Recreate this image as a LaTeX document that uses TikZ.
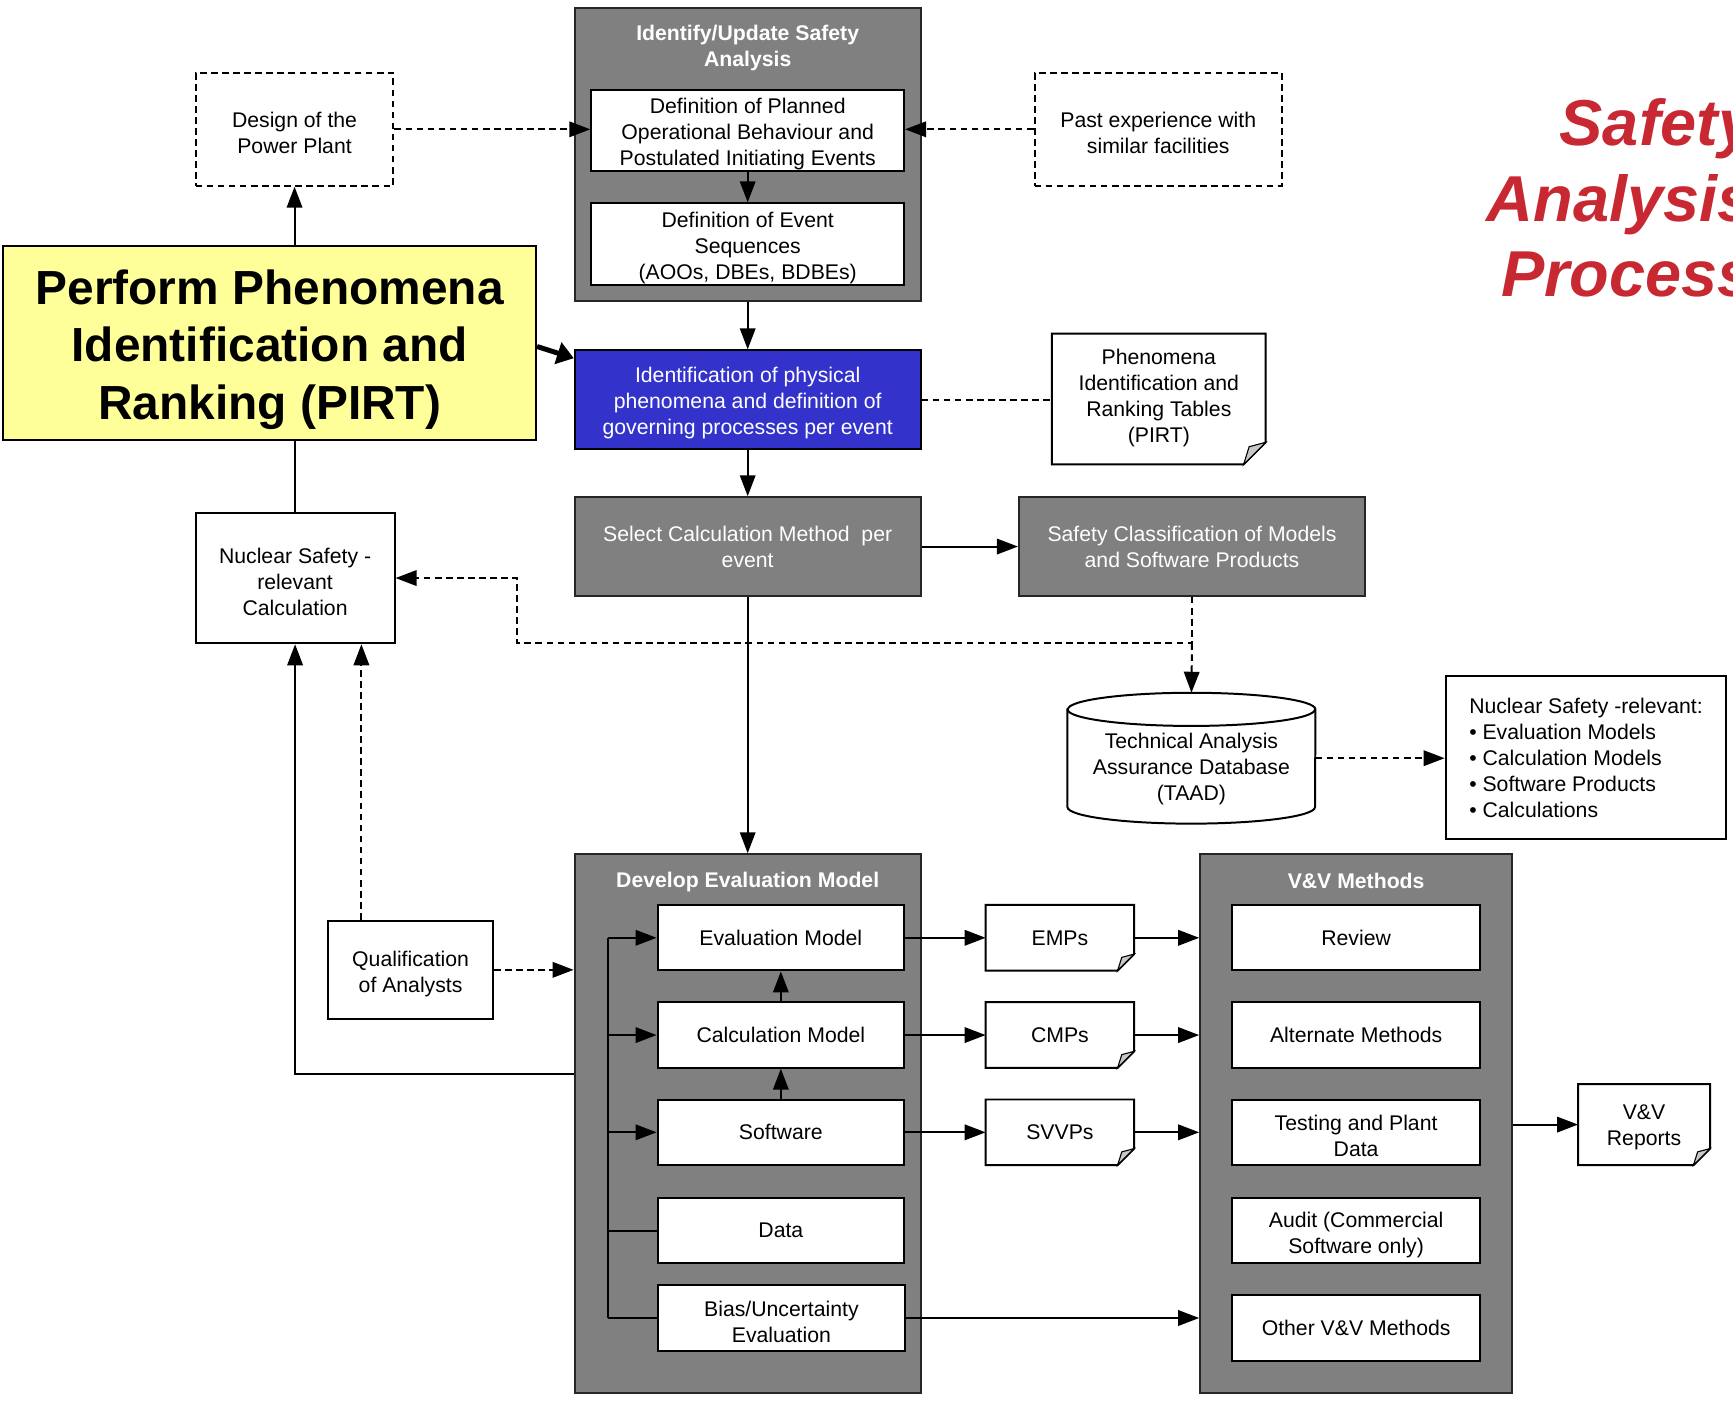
\documentclass[tikz,border=0pt]{standalone}
\usepackage{fontspec}
\setmainfont{Liberation Sans}
\usetikzlibrary{arrows.meta,calc}

\definecolor{boxgray}{RGB}{128,128,128}
\definecolor{pirtyellow}{RGB}{255,255,153}
\definecolor{phenblue}{RGB}{51,51,204}
\definecolor{titlered}{RGB}{200,40,50}
\definecolor{foldgray}{RGB}{200,200,200}

% zero-width strut that lowers a multi-line text block slightly
\newcommand\fl{\rule{0pt}{21pt}}

% outline of a document shape with a folded lower right corner
\newcommand\docoutline[2]{%
  \draw[docline] (#1.north west) -- (#1.north east) -- ([yshift=#2pt]#1.south east)
    -- ([xshift=-#2pt]#1.south east) -- (#1.south west) -- cycle;
  \draw[docline, line width=1pt, fill=foldgray] ([yshift=#2pt]#1.south east)
    -- ([xshift=-#2pt]#1.south east) -- ([shift={(-0.75*#2pt,0.8*#2pt)}]#1.south east) -- cycle;
}

\begin{document}
\begin{tikzpicture}[x=1pt,y=-1pt,
  every node/.style={inner sep=0pt, align=center, font=\fontsize{19.2}{23.5}\selectfont},
  sz/.style 2 args={minimum width=#1pt, minimum height=#2pt},
  wbox/.style={draw=black, fill=white, line width=1.8pt},
  dbox/.style={draw=black, line width=1.8pt, dash pattern=on 6pt off 4pt},
  gbox/.style={draw=black!85, fill=boxgray, line width=2pt, text=white},
  gtitle/.style={text=white, font=\fontsize{19.2}{23.5}\selectfont\bfseries},
  docline/.style={draw=black, line width=1.8pt, line join=miter},
  conn/.style={line width=1.8pt, -{Triangle[length=19pt,width=14pt]}},
  plain/.style={line width=1.8pt},
  dashline/.style={line width=1.8pt, dash pattern=on 6pt off 4pt},
  dconn/.style={conn, dash pattern=on 6pt off 4pt},
  bigtitle/.style={anchor=base west, text=titlered, font=\fontsize{58.7}{68}\selectfont\bfseries\itshape}
]
\path[use as bounding box, fill=white] (0,0) rectangle (1568,1270);

% ---- safety analysis block ----
\node[gbox, sz={313}{265}] (ga) at (676.5,139.5) {};
\node[gtitle] (gaT) at (676.5,43.5) {Identify/Update Safety\\Analysis};
\node[wbox, sz={283}{74}] (planned) at (676.5,118) {\fl Definition of Planned\\Operational Behaviour and\\Postulated Initiating Events};
\node[wbox, sz={283}{74}] (events) at (676.5,221) {\fl Definition of Event\\Sequences\\(AOOs, DBEs, BDBEs)};

\node[dbox, sz={179}{102}] (design) at (266.5,117) {\fl Design of the\\Power Plant};
\node[dbox, sz={224}{102}] (past) at (1048,117) {\fl Past experience with\\similar facilities};

\node[draw=black, line width=1.8pt, fill=pirtyellow, sz={482}{175}] (pirt) at (244,310.5) {};
\node[font=\fontsize{43.3}{52}\selectfont\bfseries] (pirtT) at (244,316) {Perform Phenomena\\Identification and\\Ranking (PIRT)};

\node[draw=black, line width=1.8pt, fill=phenblue, text=white, sz={313}{89}] (phen) at (676.5,361.5) {\fl Identification of physical\\phenomena and definition of\\governing processes per event};

\node[sz={193}{118}] (pirttab) at (1048.5,361) {};
\docoutline{pirttab}{20}
\node (pirttabT) at (1048.5,360) {Phenomena\\Identification and\\Ranking Tables\\(PIRT)};

\node[gbox, sz={313}{89}] (select) at (676.5,494.5) {Select Calculation Method~~per\\event};
\node[gbox, sz={313}{89}] (classif) at (1078.5,494.5) {Safety Classification of Models\\and Software Products};

\node[wbox, sz={180}{118}] (nscalc) at (267,523) {\fl Nuclear Safety -\\relevant\\Calculation};

% database cylinder
\node[sz={224}{118}] (taad) at (1078,686) {};
\draw[docline] ([yshift=-15pt]taad.north west) -- ([yshift=15pt]taad.south west)
  arc[start angle=180, end angle=360, x radius=112pt, y radius=15pt]
  -- ([yshift=-15pt]taad.north east)
  arc[start angle=0, end angle=180, x radius=112pt, y radius=15pt] -- cycle;
\draw[docline] ([yshift=-15pt]taad.north west) arc[start angle=180, end angle=360, x radius=112pt, y radius=15pt];
\node (taadT) at (1078,696) {Technical Analysis\\Assurance Database\\(TAAD)};

\node[wbox, sz={254}{147}, align=left] (nslist) at (1435,685.5) {Nuclear Safety -relevant:\\• Evaluation Models\\• Calculation Models\\• Software Products\\• Calculations};

% ---- evaluation model block ----
\node[gbox, sz={313}{487}] (develop) at (676.5,1016.5) {};
\node[gtitle] (developT) at (676.5,798) {Develop Evaluation Model};
\node[wbox, sz={223}{59}] (em) at (706.5,848.5) {Evaluation Model};
\node[wbox, sz={223}{59}] (cm) at (706.5,936.5) {Calculation Model};
\node[wbox, sz={223}{59}] (sw) at (706.5,1024.5) {Software};
\node[wbox, sz={223}{59}] (data) at (706.5,1113.5) {Data};
\node[wbox, sz={224}{59}] (bias) at (707,1192.5) {\fl Bias/Uncertainty\\Evaluation};

\node[wbox, sz={149}{89}] (qual) at (371.5,877.5) {\fl Qualification\\of Analysts};

\node[sz={134}{59}] (emps) at (959,848.5) {EMPs};
\docoutline{emps}{15}
\node[sz={134}{59}] (cmps) at (959,936.5) {CMPs};
\docoutline{cmps}{15}
\node[sz={134}{59}] (svvps) at (959,1024.5) {SVVPs};
\docoutline{svvps}{15}

% ---- V&V block ----
\node[gbox, sz={282}{487}] (vv) at (1227,1016.5) {};
\node[gtitle] (vvT) at (1227,797) {V\&V Methods};
\node[wbox, sz={224}{59}] (review) at (1227,848.5) {Review};
\node[wbox, sz={224}{59}] (alt) at (1227,936.5) {Alternate Methods};
\node[wbox, sz={224}{59}] (test) at (1227,1024.5) {\fl Testing and Plant\\Data};
\node[wbox, sz={224}{59}] (audit) at (1227,1113.5) {\fl Audit (Commercial\\Software only)};
\node[wbox, sz={224}{59}] (other) at (1227,1201.5) {Other V\&V Methods};

\node[sz={119}{73}] (reports) at (1487.5,1017.5) {};
\docoutline{reports}{15}
\node (reportsT) at (1487.5,1020) {V\&V\\Reports};

% ---- heading ----
\node[bigtitle] (h1) at (1411,132) {Safety};
\node[bigtitle] (h2) at (1345,200) {Analysis};
\node[bigtitle] (h3) at (1358,268) {Process};

% ---- connectors ----
\coordinate (jn) at (1078.5,582);
\coordinate (jw) at (468,582);
\coordinate (y972) at (0,972);
\coordinate (bus) at (550,0);

\draw[conn] (planned.south) -- (events.north);
\draw[conn] (ga.south) -- (phen.north);
\draw[dconn] (design.east) -- (design.east -| planned.west);
\draw[dconn] (past.west) -- (past.west -| planned.east);
\draw[conn] (design.south |- pirt.north) -- (design.south);
\draw[line width=4.5pt, -{Triangle[length=15pt,width=20pt]}] ($(pirt.east)+(0,3)$) -- ($(phen.north west)+(0,8)$);
\draw[plain] (nscalc.north |- pirt.south) -- (nscalc.north);
\draw[dashline] (phen.east) -- (phen.east -| pirttab.west);
\draw[conn] (phen.south) -- (select.north);
\draw[conn] (select.east) -- (select.east -| classif.west);
\draw[dconn] (classif.south) -- (jn) -- (jw) |- (nscalc.east);
\draw[dconn] (jn) -- (taad.north);
\draw[conn] (select.south) -- (develop.north);
\draw[dconn] (taad.east) -- (taad.east -| nslist.west);
\draw[conn] (develop.west |- y972) -| (nscalc.south);
\draw[dconn] ([xshift=-44.5pt]qual.north) -- ([xshift=-44.5pt]qual.north |- nscalc.south);
\draw[dconn] (qual.east) -- (qual.east -| develop.west);

\draw[plain] (em.west -| bus) -- (bias.west -| bus);
\foreach \n in {em,cm,sw} \draw[conn] (\n.west -| bus) -- (\n.west);
\foreach \n in {data,bias} \draw[plain] (\n.west -| bus) -- (\n.west);
\draw[conn] (cm.north) -- (em.south);
\draw[conn] (sw.north) -- (cm.south);
\draw[conn] (em.east) -- (emps.west);
\draw[conn] (cm.east) -- (cmps.west);
\draw[conn] (sw.east) -- (svvps.west);
\draw[conn] (emps.east) -- (emps.east -| vv.west);
\draw[conn] (cmps.east) -- (cmps.east -| vv.west);
\draw[conn] (svvps.east) -- (svvps.east -| vv.west);
\draw[conn] (bias.east) -- (bias.east -| vv.west);
\draw[conn] (vv.east |- reports.west) -- (reports.west);
\end{tikzpicture}
\end{document}
